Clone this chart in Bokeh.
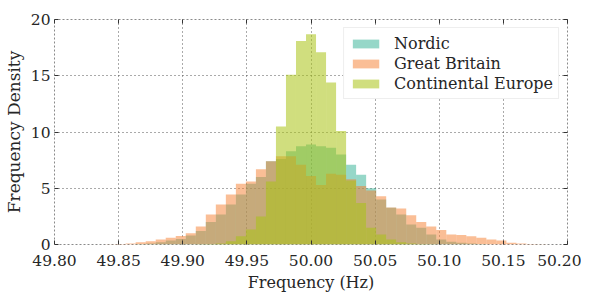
import numpy as np
from bokeh.plotting import figure
from bokeh.models import LinearAxis, FixedTicker, Range1d, Legend, LegendItem, NumeralTickFormatter
from bokeh.embed import file_html
from bokeh.resources import INLINE

# ---- data (histogram bar heights) ----
bin_start = 49.8008
bin_width = 0.0078125
n_bins = 51

nordic = [0, 0, 0, 0, 0, 0, 0, 0, 0.05, 0.1, 0.2, 0.35, 0.5, 0.8, 1.2, 2.0, 2.67,
          3.56, 4.44, 5.4, 6.0, 7.4, 7.6, 8.3, 8.74, 8.9, 8.74, 8.6, 8.0, 7.1, 6.2,
          5.0, 4.0, 3.27, 2.67, 1.78, 1.48, 0.89, 0.44, 0.25, 0.15, 0.08, 0.04, 0,
          0, 0, 0, 0, 0, 0, 0]
great_britain = [0, 0, 0, 0, 0.01, 0.03, 0.05, 0.1, 0.2, 0.3, 0.44, 0.6, 0.75, 1.0,
                 1.6, 2.67, 3.56, 4.44, 5.4, 5.6, 6.7, 7.4, 7.85, 7.85, 7.1, 6.1, 5.3,
                 6.3, 6.2, 5.8, 5.2, 4.8, 4.3, 3.3, 3.2, 2.6, 2.0, 1.6, 1.3, 0.9, 0.85,
                 0.74, 0.6, 0.44, 0.35, 0.15, 0.1, 0.05, 0.02, 0, 0]
continental_europe = [0, 0, 0, 0, 0, 0, 0, 0, 0, 0, 0, 0, 0, 0, 0.02, 0.05, 0.1, 0.3,
                      0.74, 1.33, 2.5, 5.6, 10.5, 15.1, 18.1, 18.7, 17.1, 14.4, 10.1,
                      5.7, 3.7, 1.5, 0.9, 0.45, 0.2, 0.1, 0.05, 0.02, 0, 0, 0, 0, 0, 0,
                      0, 0, 0, 0, 0, 0, 0]

series_names = ["Nordic", "Great Britain", "Continental Europe"]
series_values = [nordic, great_britain, continental_europe]
series_colors = ["#2daf91", "#f57d2d", "#a9c214"]
series_alpha = [0.5, 0.5, 0.55]

x_ticks = [49.80, 49.85, 49.90, 49.95, 50.00, 50.05, 50.10, 50.15, 50.20]
y_ticks = [0, 5, 10, 15, 20]

FONT = "DejaVu Serif"
TXT = "#262626"

edges = bin_start + np.arange(n_bins + 1) * bin_width

p = figure(frame_width=513, frame_height=225, output_backend="svg", toolbar_location=None,
           x_range=Range1d(49.80, 50.20), y_range=Range1d(0, 20),
           min_border_left=51, min_border_right=14, min_border_top=19,
           min_border_bottom=50)
p.background_fill_color = "white"
p.border_fill_color = "white"
p.outline_line_color = "#8a8a8a"
p.outline_line_dash = "2 2"
p.outline_line_width = 1

renderers = []
for name, vals, col, a in zip(series_names, series_values, series_colors, series_alpha):
    r = p.quad(left=edges[:-1], right=edges[1:], bottom=0, top=vals,
               fill_color=col, fill_alpha=a, line_color=None)
    renderers.append(r)

# axes styling
for ax in (p.xaxis[0], p.yaxis[0]):
    ax.axis_line_color = None
    ax.major_tick_in = 4
    ax.major_tick_out = 0
    ax.minor_tick_line_color = None
    ax.major_tick_line_color = "#333333"
    ax.major_label_text_font = FONT
    ax.major_label_text_font_size = "15.5px"
    ax.major_label_text_color = TXT
    ax.axis_label_text_font = FONT
    ax.axis_label_text_font_style = "normal"
    ax.axis_label_text_color = TXT

p.xaxis.ticker = FixedTicker(ticks=x_ticks)
p.yaxis.ticker = FixedTicker(ticks=y_ticks)
p.xaxis.formatter = NumeralTickFormatter(format="0.00")
p.xaxis.axis_label = "Frequency (Hz)"
p.yaxis.axis_label = "Frequency Density"
p.xaxis.axis_label_text_font_size = "16px"
p.yaxis.axis_label_text_font_size = "17px"
p.xaxis.major_label_standoff = 10
p.yaxis.major_label_standoff = 4
p.xaxis.axis_label_standoff = 4
p.yaxis.axis_label_standoff = 4

# top/right ticks (classic style)
top = LinearAxis(ticker=FixedTicker(ticks=x_ticks), major_label_text_font_size="0px",
                 major_label_standoff=0, axis_line_color=None, major_tick_in=4,
                 major_tick_out=0, minor_tick_line_color=None,
                 major_tick_line_color="#333333")
right = LinearAxis(ticker=FixedTicker(ticks=y_ticks), major_label_text_font_size="0px",
                   major_label_standoff=0, axis_line_color=None, major_tick_in=4,
                   major_tick_out=0, minor_tick_line_color=None,
                   major_tick_line_color="#333333")
p.add_layout(top, "above")
p.add_layout(right, "right")

# grid
p.xgrid.ticker = FixedTicker(ticks=x_ticks)
p.ygrid.ticker = FixedTicker(ticks=y_ticks)
for g in (p.xgrid[0], p.ygrid[0]):
    g.grid_line_color = "#555555"
    g.grid_line_dash = "1 3"
    g.grid_line_width = 1

legend = Legend(items=[LegendItem(label=n, renderers=[r]) for n, r in zip(series_names, renderers)],
                location="top_right")
legend.label_text_font = FONT
legend.label_text_font_size = "16px"
legend.label_text_color = TXT
legend.glyph_width = 33
legend.glyph_height = 11
legend.label_height = 20
legend.spacing = 0
legend.label_standoff = 12
legend.padding = 5
legend.margin = 8
legend.border_line_color = "#dddddd"
legend.border_line_width = 1
legend.background_fill_color = "white"
legend.background_fill_alpha = 1.0
p.add_layout(legend)

open("out.html", "w").write(file_html(p, INLINE))
